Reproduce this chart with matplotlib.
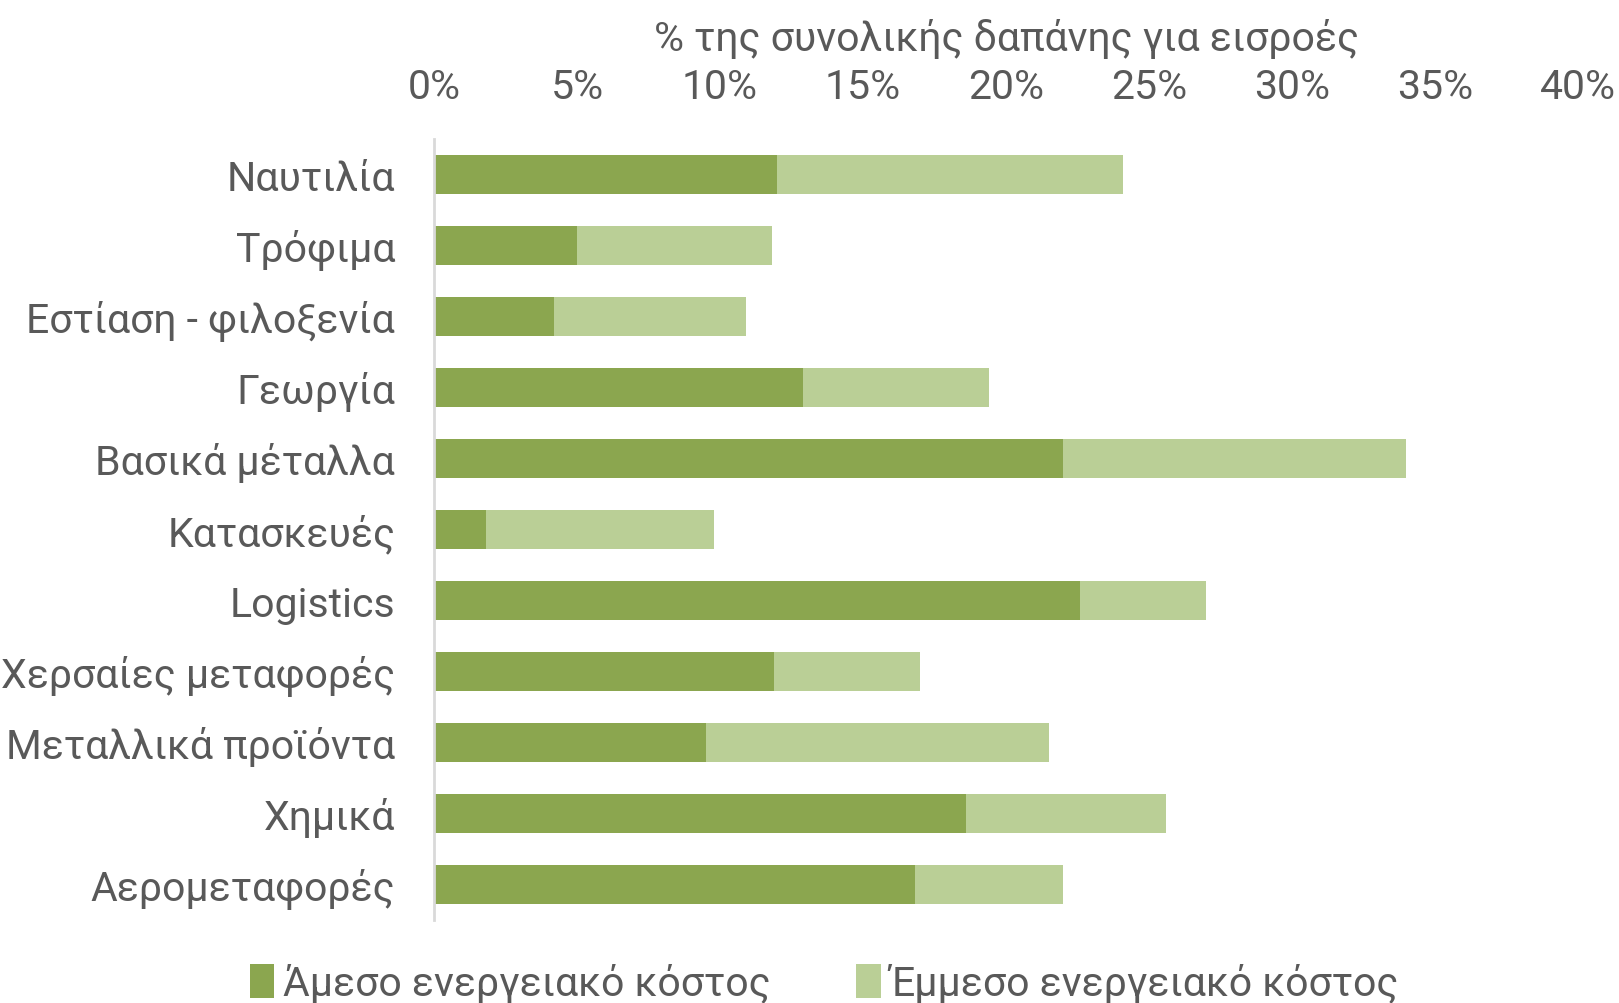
import matplotlib
matplotlib.use("Agg")
import matplotlib.pyplot as plt
import numpy as np

plt.rcParams["font.family"] = ["Roboto", "DejaVu Sans"]

categories = [
    "Ναυτιλία",
    "Τρόφιμα",
    "Εστίαση - φιλοξενία",
    "Γεωργία",
    "Βασικά μέταλλα",
    "Κατασκευές",
    "Logistics",
    "Χερσαίες μεταφορές",
    "Μεταλλικά προϊόντα",
    "Χημικά",
    "Αερομεταφορές",
]
direct_cost = [12.0, 5.0, 4.2, 12.9, 22.0, 1.8, 22.6, 11.9, 9.5, 18.6, 16.8]
indirect_cost = [12.1, 6.8, 6.7, 6.5, 12.0, 8.0, 4.4, 5.1, 12.0, 7.0, 5.2]
series_names = ["Άμεσο ενεργειακό κόστος", "Έμμεσο ενεργειακό κόστος"]
x_ticks = [0, 5, 10, 15, 20, 25, 30, 35, 40]

text_color = "#595959"
dark_green = "#8BA64F"
light_green = "#BACF96"
fs = 29.5

fig = plt.figure(figsize=(16.19, 10.04), dpi=100)
ax = fig.add_axes([0.2681, 0.0827, 0.7066, 0.7779])

y = np.arange(len(categories))
ax.barh(y, direct_cost, height=0.56, color=dark_green, label=series_names[0])
ax.barh(y, indirect_cost, left=direct_cost, height=0.56, color=light_green,
        label=series_names[1])

ax.set_ylim(len(categories) - 0.5, -0.5)
ax.set_xlim(0, 40)
ax.set_yticks(y)
ax.set_yticklabels(categories)
ax.set_xticks(x_ticks)
ax.set_xticklabels([f"{t}%" for t in x_ticks])

ax.xaxis.tick_top()
ax.xaxis.set_label_position("top")
ax.set_xlabel("% της συνολικής δαπάνης για εισροές", fontsize=fs,
              color=text_color, labelpad=12)

ax.tick_params(axis="y", length=0, pad=28, labelsize=fs, labelcolor=text_color)
ax.tick_params(axis="x", length=0, pad=24, labelsize=fs, labelcolor=text_color)

for side in ["top", "right", "bottom"]:
    ax.spines[side].set_visible(False)
ax.spines["left"].set_color("#D9D9D9")
ax.spines["left"].set_linewidth(2)

fig.legend(loc="center", bbox_to_anchor=(0.509, 0.02), ncol=2, frameon=False,
           fontsize=fs, labelcolor=text_color, handlelength=0.6,
           handleheight=0.9, handletextpad=0.2, columnspacing=2.1,
           borderaxespad=0)

fig.savefig("out.png", dpi=100)
plt.close(fig)
